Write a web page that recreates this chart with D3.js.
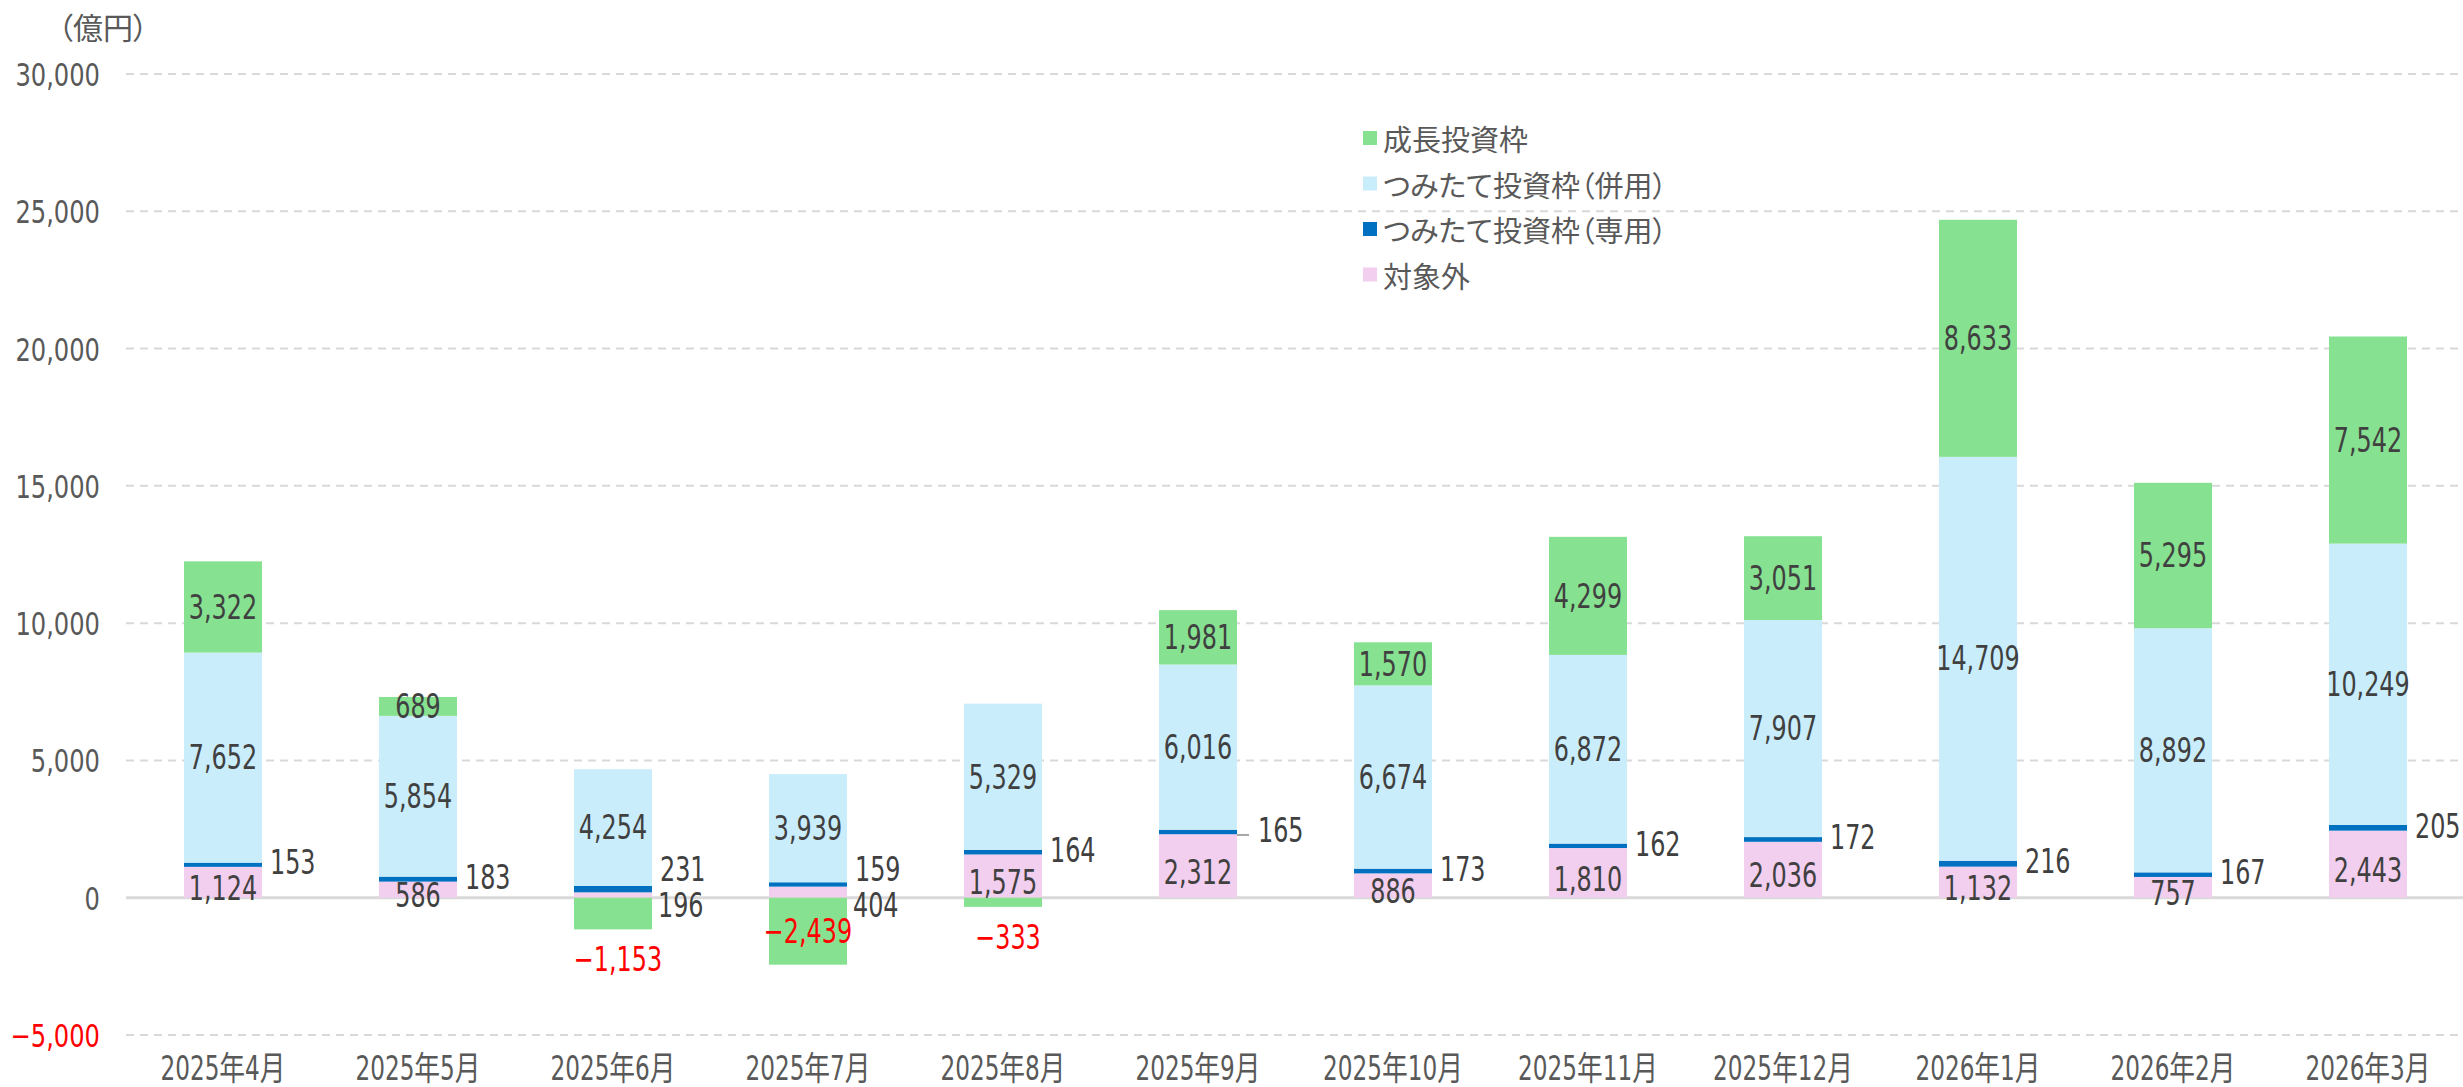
<!DOCTYPE html>
<html lang="ja">
<head>
<meta charset="utf-8">
<script src="https://cdn.jsdelivr.net/npm/d3@7"></script>
<style>
  body { margin: 0; background: #fff; }
  text { font-family: "DejaVu Sans Condensed", "Noto Sans CJK JP", sans-serif; }
  .jp { font-family: "Noto Sans CJK JP", sans-serif; font-feature-settings: "palt"; }
</style>
</head>
<body>
<div id="chart"></div>
<script>
const months = ["2025年4月", "2025年5月", "2025年6月", "2025年7月", "2025年8月", "2025年9月",
                "2025年10月", "2025年11月", "2025年12月", "2026年1月", "2026年2月", "2026年3月"];
// 対象外
const taishogai = [1124, 586, 196, 404, 1575, 2312, 886, 1810, 2036, 1132, 757, 2443];
// つみたて投資枠（専用）
const tsumitateSenyo = [153, 183, 231, 159, 164, 165, 173, 162, 172, 216, 167, 205];
// つみたて投資枠（併用）
const tsumitateHeiyo = [7652, 5854, 4254, 3939, 5329, 6016, 6674, 6872, 7907, 14709, 8892, 10249];
// 成長投資枠
const seicho = [3322, 689, -1153, -2439, -333, 1981, 1570, 4299, 3051, 8633, 5295, 7542];
const yTicks = [-5000, 0, 5000, 10000, 15000, 20000, 25000, 30000];
const legendNames = ["成長投資枠", "つみたて投資枠（併用）", "つみたて投資枠（専用）", "対象外"];

const keys = ["taishogai", "senyo", "heiyo", "seicho"];
const colors = { taishogai: "#F2CEEF", senyo: "#0070C0", heiyo: "#CAEDFB", seicho: "#86E190" };
const legendColors = [colors.seicho, colors.heiyo, colors.senyo, colors.taishogai];

const width = 2463, height = 1087;
const SX = 0.78; // squeeze numbers horizontally like the original's narrow font

const rows = months.map((m, i) => ({
  month: m,
  taishogai: taishogai[i],
  senyo: tsumitateSenyo[i],
  heiyo: tsumitateHeiyo[i],
  seicho: seicho[i]
}));

const svg = d3.select("#chart").append("svg")
  .attr("width", width)
  .attr("height", height);

const x = d3.scaleBand()
  .domain(months)
  .range([125.5, 2465.5])
  .paddingInner(0.6)
  .paddingOuter(0.3);

const y = d3.scaleLinear()
  .domain([-5000, 30000])
  .range([1035, 74]);

const fmt = d3.format(",");

// grid lines
svg.append("g")
  .selectAll("line")
  .data(yTicks)
  .enter()
  .append("line")
  .attr("x1", 126)
  .attr("x2", width)
  .attr("y1", d => y(d))
  .attr("y2", d => y(d))
  .attr("stroke", "#D9D9D9")
  .attr("stroke-width", d => d === 0 ? 3 : 2)
  .attr("stroke-dasharray", d => d === 0 ? null : "8,6");

// y axis labels
const yAxis = d3.axisLeft(y).tickValues(yTicks).tickSize(0).tickPadding(0).tickFormat(fmt);
const yg = svg.append("g")
  .attr("transform", "translate(100,0)")
  .call(yAxis);
yg.select(".domain").remove();
yg.selectAll("text")
  .attr("x", 0)
  .attr("dy", "0.36em")
  .attr("transform", "scale(0.84,1)")
  .style("font-size", "32px")
  .style("font-family", null)
  .attr("fill", d => d < 0 ? "#FF0000" : "#595959");

svg.append("text")
  .attr("class", "jp")
  .attr("x", 58)
  .attr("y", 39)
  .attr("fill", "#595959")
  .style("font-size", "30px")
  .text("（億円）");

// stacked bars
const stack = d3.stack().keys(keys).offset(d3.stackOffsetDiverging);
const series = stack(rows);

svg.append("g")
  .selectAll("g")
  .data(series)
  .enter()
  .append("g")
  .attr("fill", s => colors[s.key])
  .selectAll("rect")
  .data(s => s)
  .enter()
  .append("rect")
  .attr("x", d => x(d.data.month))
  .attr("width", x.bandwidth())
  .attr("y", d => y(Math.max(d[0], d[1])))
  .attr("height", d => Math.abs(y(d[0]) - y(d[1])));

// x labels
svg.append("g")
  .selectAll("text")
  .data(months)
  .enter()
  .append("text")
  .attr("transform", d => `translate(${x(d) + x.bandwidth() / 2},1080) scale(${SX},1)`)
  .attr("text-anchor", "middle")
  .attr("fill", "#595959")
  .style("font-size", "33px")
  .text(d => d);

// data labels
const labels = svg.append("g").style("font-size", "34px");
function addLabel(px, py, anchor, txt, color) {
  labels.append("text")
    .attr("transform", `translate(${px},${py}) scale(${SX},1)`)
    .attr("text-anchor", anchor)
    .attr("dominant-baseline", "central")
    .attr("fill", color)
    .text(txt);
}

const byKey = {};
series.forEach(s => { byKey[s.key] = s; });
const y0 = y(0);
const leaderMonths = ["2025年9月"];

rows.forEach((r, i) => {
  const cx = x(r.month) + x.bandwidth() / 2;
  const right = x(r.month) + x.bandwidth();

  // 対象外
  const p = byKey.taishogai[i];
  const pinkOutside = r.taishogai < 500;
  if (pinkOutside) addLabel(right + 6, y0 + 8, "start", fmt(r.taishogai), "#404040");
  else addLabel(cx, (y(p[0]) + y(p[1])) / 2 + 6, "middle", fmt(r.taishogai), "#404040");

  // 専用
  const b = byKey.senyo[i];
  const bandMid = (y(b[0]) + y(b[1])) / 2;
  const leader = leaderMonths.includes(r.month);
  if (leader) {
    labels.append("line")
      .attr("x1", right)
      .attr("x2", right + 12)
      .attr("y1", bandMid + 3)
      .attr("y2", bandMid + 3)
      .attr("stroke", "#A6A6A6")
      .attr("stroke-width", 2);
  }
  addLabel(right + (leader ? 21 : 8), pinkOutside ? y0 - 28 : bandMid - 2, "start", fmt(r.senyo), "#404040");

  // 併用
  const h = byKey.heiyo[i];
  addLabel(cx, (y(h[0]) + y(h[1])) / 2, "middle", fmt(r.heiyo), "#404040");

  // 成長
  const g = byKey.seicho[i];
  const segH = Math.abs(y(g[0]) - y(g[1]));
  const outside = r.seicho < 0 && segH < 50;
  const gy = outside ? Math.max(y(g[0]), y(g[1])) + 30 : (y(g[0]) + y(g[1])) / 2;
  addLabel(outside ? cx + 5 : cx, gy, "middle", fmt(r.seicho), r.seicho < 0 ? "#FF0000" : "#404040");
});

// legend
const legend = svg.append("g").attr("transform", "translate(1363,138)");
legendNames.forEach((name, i) => {
  const row = legend.append("g").attr("transform", `translate(0,${i * 45.5})`);
  row.append("rect")
    .attr("x", 0)
    .attr("y", -7)
    .attr("width", 14)
    .attr("height", 14)
    .attr("fill", legendColors[i]);
  row.append("text")
    .attr("class", "jp")
    .attr("x", 20)
    .attr("y", 0)
    .attr("dominant-baseline", "central")
    .attr("fill", "#595959")
    .style("font-size", "29px")
    .text(name);
});
</script>
</body>
</html>
